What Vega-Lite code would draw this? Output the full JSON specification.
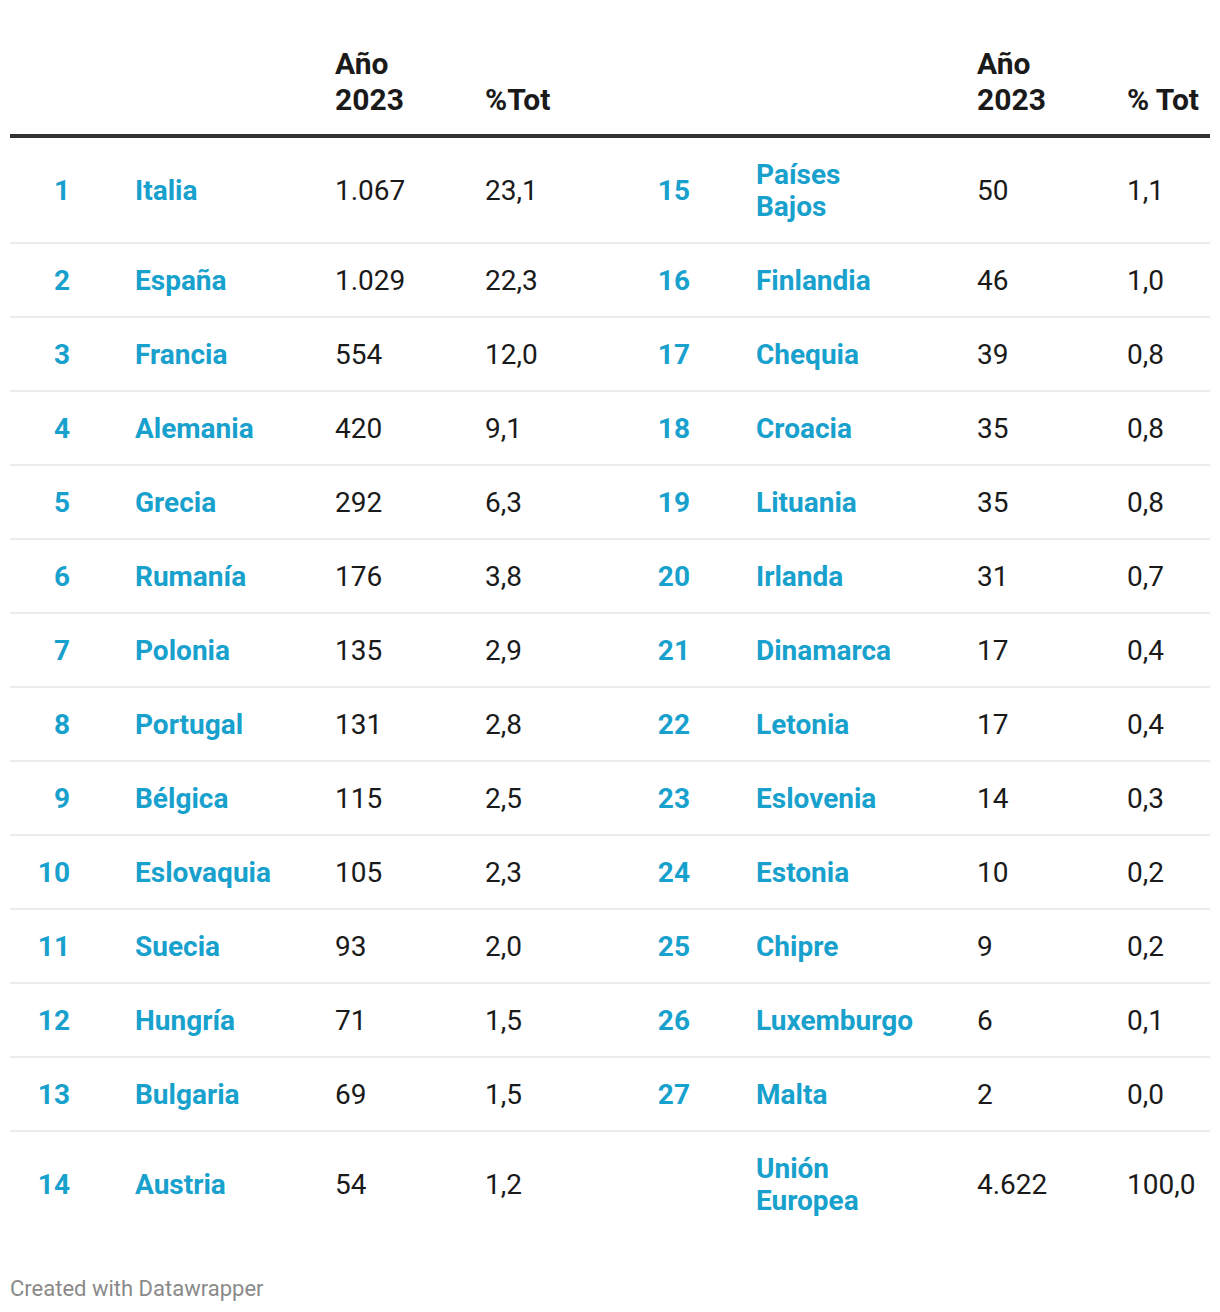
{
  "$schema": "https://vega.github.io/schema/vega-lite/v6.json",
  "width": 1220,
  "height": 1312,
  "autosize": {"type": "none"},
  "padding": 0,
  "background": "#ffffff",
  "config": {
    "view": {"stroke": null},
    "text": {"font": "Roboto"},
    "locale": {"number": {"decimal": ",", "thousands": ".", "grouping": [3], "currency": ["", " €"]}}
  },
  "datasets": {
    "rows": [
      {"row": 1, "rk1": "1", "c1": "Italia", "v1": 1067, "p1": 23.1, "rk2": "15", "c2": "Países\nBajos", "v2": 50, "p2": 1.1},
      {"row": 2, "rk1": "2", "c1": "España", "v1": 1029, "p1": 22.3, "rk2": "16", "c2": "Finlandia", "v2": 46, "p2": 1.0},
      {"row": 3, "rk1": "3", "c1": "Francia", "v1": 554, "p1": 12.0, "rk2": "17", "c2": "Chequia", "v2": 39, "p2": 0.8},
      {"row": 4, "rk1": "4", "c1": "Alemania", "v1": 420, "p1": 9.1, "rk2": "18", "c2": "Croacia", "v2": 35, "p2": 0.8},
      {"row": 5, "rk1": "5", "c1": "Grecia", "v1": 292, "p1": 6.3, "rk2": "19", "c2": "Lituania", "v2": 35, "p2": 0.8},
      {"row": 6, "rk1": "6", "c1": "Rumanía", "v1": 176, "p1": 3.8, "rk2": "20", "c2": "Irlanda", "v2": 31, "p2": 0.7},
      {"row": 7, "rk1": "7", "c1": "Polonia", "v1": 135, "p1": 2.9, "rk2": "21", "c2": "Dinamarca", "v2": 17, "p2": 0.4},
      {"row": 8, "rk1": "8", "c1": "Portugal", "v1": 131, "p1": 2.8, "rk2": "22", "c2": "Letonia", "v2": 17, "p2": 0.4},
      {"row": 9, "rk1": "9", "c1": "Bélgica", "v1": 115, "p1": 2.5, "rk2": "23", "c2": "Eslovenia", "v2": 14, "p2": 0.3},
      {"row": 10, "rk1": "10", "c1": "Eslovaquia", "v1": 105, "p1": 2.3, "rk2": "24", "c2": "Estonia", "v2": 10, "p2": 0.2},
      {"row": 11, "rk1": "11", "c1": "Suecia", "v1": 93, "p1": 2.0, "rk2": "25", "c2": "Chipre", "v2": 9, "p2": 0.2},
      {"row": 12, "rk1": "12", "c1": "Hungría", "v1": 71, "p1": 1.5, "rk2": "26", "c2": "Luxemburgo", "v2": 6, "p2": 0.1},
      {"row": 13, "rk1": "13", "c1": "Bulgaria", "v1": 69, "p1": 1.5, "rk2": "27", "c2": "Malta", "v2": 2, "p2": 0.0},
      {"row": 14, "rk1": "14", "c1": "Austria", "v1": 54, "p1": 1.2, "rk2": "", "c2": "Unión\nEuropea", "v2": 4622, "p2": 100.0}
    ],
    "header": [
      {"col": 2, "hl": -1, "t": "Año"},
      {"col": 2, "hl": 0, "t": "2023"},
      {"col": 3, "hl": 0, "t": "%Tot"},
      {"col": 6, "hl": -1, "t": "Año"},
      {"col": 6, "hl": 0, "t": "2023"},
      {"col": 7, "hl": 0, "t": "% Tot"}
    ],
    "credit": [{"t": "Created with Datawrapper"}]
  },
  "resolve": {"scale": {"y": "independent"}},
  "layer": [
    {
      "layer": [
        {
          "data": {"name": "rows"},
          "transform": [{"filter": "datum.row <= 13"}],
          "mark": {"type": "rule", "color": "#ebebeb", "strokeWidth": 2},
          "encoding": {
            "x": {"datum": -1, "type": "quantitative", "axis": null, "scale": {"type": "linear", "domain": [-1, 0, 1, 2, 3, 4, 5, 6, 7, 8], "range": [10, 70, 135, 335, 485, 690, 756, 977, 1127, 1210], "zero": false, "nice": false}},
            "x2": {"datum": 8},
            "y": {"field": "row", "type": "quantitative", "axis": null, "scale": {"type": "linear", "domain": [0, 1, 2, 3, 4, 5, 6, 7, 8, 9, 10, 11, 12, 13], "range": [136, 243, 317, 391, 465, 539, 613, 687, 761, 835, 909, 983, 1057, 1131], "zero": false, "nice": false}}
          }
        },
        {
          "data": {"name": "credit"},
          "mark": {"type": "rule", "color": "#333333", "strokeWidth": 4},
          "encoding": {
            "x": {"datum": -1, "type": "quantitative", "axis": null},
            "x2": {"datum": 8},
            "y": {"datum": 0, "type": "quantitative", "axis": null}
          }
        }
      ]
    },
    {
      "layer": [
        {
          "data": {"name": "header"},
          "mark": {"type": "text", "align": "left", "baseline": "bottom", "fontSize": 30, "fontWeight": "bold", "color": "#1a1a1a"},
          "encoding": {
            "x": {"field": "col", "type": "quantitative", "axis": null},
            "y": {"field": "hl", "type": "quantitative", "axis": null, "scale": {"type": "linear", "domain": [-1, 0, 1, 2, 3, 4, 5, 6, 7, 8, 9, 10, 11, 12, 13, 14, 15], "range": [80, 116, 190, 280, 354, 428, 502, 576, 650, 724, 798, 872, 946, 1020, 1094, 1184, 1288], "zero": false, "nice": false}},
            "text": {"field": "t", "type": "nominal"}
          }
        },
        {
          "data": {"name": "rows"},
          "mark": {"type": "text", "align": "right", "baseline": "middle", "dy": 2, "fontSize": 28, "fontWeight": "bold", "color": "#18a1cd"},
          "encoding": {
            "x": {"datum": 0, "type": "quantitative", "axis": null},
            "y": {"field": "row", "type": "quantitative", "axis": null},
            "text": {"field": "rk1", "type": "nominal"}
          }
        },
        {
          "data": {"name": "rows"},
          "mark": {"type": "text", "align": "left", "baseline": "middle", "dy": 2, "fontSize": 28, "fontWeight": "bold", "color": "#18a1cd"},
          "encoding": {
            "x": {"datum": 1, "type": "quantitative", "axis": null},
            "y": {"field": "row", "type": "quantitative", "axis": null},
            "text": {"field": "c1", "type": "nominal"}
          }
        },
        {
          "data": {"name": "rows"},
          "mark": {"type": "text", "align": "left", "baseline": "middle", "dy": 2, "fontSize": 28, "color": "#1a1a1a"},
          "encoding": {
            "x": {"datum": 2, "type": "quantitative", "axis": null},
            "y": {"field": "row", "type": "quantitative", "axis": null},
            "text": {"field": "v1", "type": "quantitative", "format": ",d"}
          }
        },
        {
          "data": {"name": "rows"},
          "mark": {"type": "text", "align": "left", "baseline": "middle", "dy": 2, "fontSize": 28, "color": "#1a1a1a"},
          "encoding": {
            "x": {"datum": 3, "type": "quantitative", "axis": null},
            "y": {"field": "row", "type": "quantitative", "axis": null},
            "text": {"field": "p1", "type": "quantitative", "format": ".1f"}
          }
        },
        {
          "data": {"name": "rows"},
          "mark": {"type": "text", "align": "right", "baseline": "middle", "dy": 2, "fontSize": 28, "fontWeight": "bold", "color": "#18a1cd"},
          "encoding": {
            "x": {"datum": 4, "type": "quantitative", "axis": null},
            "y": {"field": "row", "type": "quantitative", "axis": null},
            "text": {"field": "rk2", "type": "nominal"}
          }
        },
        {
          "data": {"name": "rows"},
          "transform": [{"filter": "indexof(datum.c2, '\\n') < 0"}],
          "mark": {"type": "text", "align": "left", "baseline": "middle", "dy": 2, "fontSize": 28, "fontWeight": "bold", "color": "#18a1cd"},
          "encoding": {
            "x": {"datum": 5, "type": "quantitative", "axis": null},
            "y": {"field": "row", "type": "quantitative", "axis": null},
            "text": {"field": "c2", "type": "nominal"}
          }
        },
        {
          "data": {"name": "rows"},
          "transform": [{"filter": "indexof(datum.c2, '\\n') >= 0"}],
          "mark": {"type": "text", "align": "left", "baseline": "middle", "dy": -14, "fontSize": 28, "lineHeight": 32, "lineBreak": "\n", "fontWeight": "bold", "color": "#18a1cd"},
          "encoding": {
            "x": {"datum": 5, "type": "quantitative", "axis": null},
            "y": {"field": "row", "type": "quantitative", "axis": null},
            "text": {"field": "c2", "type": "nominal"}
          }
        },
        {
          "data": {"name": "rows"},
          "mark": {"type": "text", "align": "left", "baseline": "middle", "dy": 2, "fontSize": 28, "color": "#1a1a1a"},
          "encoding": {
            "x": {"datum": 6, "type": "quantitative", "axis": null},
            "y": {"field": "row", "type": "quantitative", "axis": null},
            "text": {"field": "v2", "type": "quantitative", "format": ",d"}
          }
        },
        {
          "data": {"name": "rows"},
          "mark": {"type": "text", "align": "left", "baseline": "middle", "dy": 2, "fontSize": 28, "color": "#1a1a1a"},
          "encoding": {
            "x": {"datum": 7, "type": "quantitative", "axis": null},
            "y": {"field": "row", "type": "quantitative", "axis": null},
            "text": {"field": "p2", "type": "quantitative", "format": ".1f"}
          }
        },
        {
          "data": {"name": "credit"},
          "mark": {"type": "text", "align": "left", "baseline": "middle", "dy": 1, "fontSize": 22, "color": "#8a8a8a"},
          "encoding": {
            "x": {"datum": -1, "type": "quantitative", "axis": null},
            "y": {"datum": 15, "type": "quantitative", "axis": null},
            "text": {"field": "t", "type": "nominal"}
          }
        }
      ]
    }
  ]
}
